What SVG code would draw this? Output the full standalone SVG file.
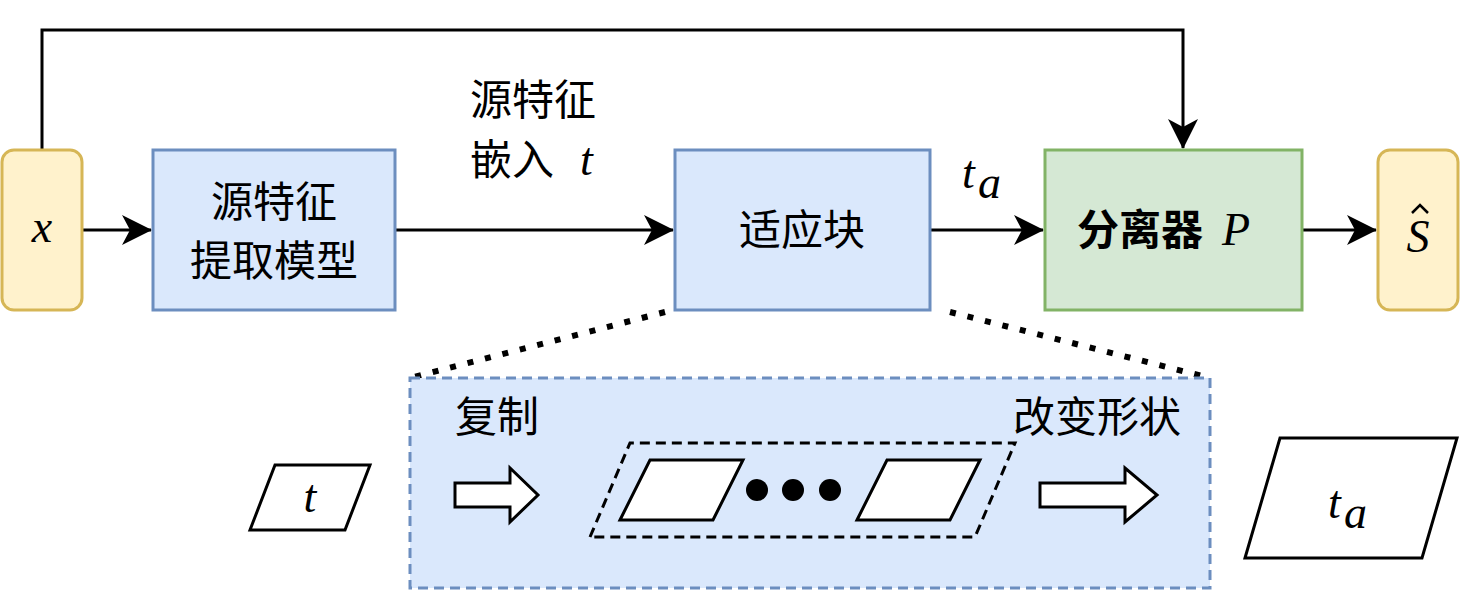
<svg xmlns="http://www.w3.org/2000/svg" width="1460" height="592" viewBox="0 0 1460 592">
<style>
.blue{fill:#dae8fc;stroke:#6c8ebf;stroke-width:3}
.yel{fill:#fff2cc;stroke:#d6b656;stroke-width:3}
.grn{fill:#d5e8d4;stroke:#82b366;stroke-width:3}
.cn{font-family:"Liberation Sans","Noto Sans CJK SC",sans-serif;font-size:42px;text-anchor:middle;fill:#000}
.m{font-family:"Liberation Serif",serif;font-style:italic;font-size:46px;fill:#000}
.ln{fill:none;stroke:#000;stroke-width:3}
.pg{fill:#fff;stroke:#000;stroke-width:3}
</style>
<defs>
<marker id="a2" viewBox="0 0 30 30" refX="29" refY="15" markerWidth="30" markerHeight="30" markerUnits="userSpaceOnUse" orient="auto"><path d="M0,0 L30,15 L0,30 L8,15 z"/></marker></defs>
<g id="connectors">
<path class="ln" d="M82,230 H151" marker-end="url(#a2)"/>
<path class="ln" d="M395,230 H673" marker-end="url(#a2)"/>
<path class="ln" d="M930,230 H1043" marker-end="url(#a2)"/>
<path class="ln" d="M1302,230 H1376" marker-end="url(#a2)"/>
<path class="ln" d="M42,150 V30 H1183 V148" marker-end="url(#a2)"/>
<path d="M665,312 L410,378" stroke="#000" stroke-width="6" stroke-dasharray="6 12" fill="none"/>
<path d="M950,312 L1210,378" stroke="#000" stroke-width="6" stroke-dasharray="6 12" fill="none"/>
</g>
<text class="cn" x="533" y="115">源特征</text>
<text class="cn" x="512" y="175">嵌入</text><text class="m" x="580" y="175">t</text>
<text class="m" x="962" y="188">t</text><text class="m" x="978" y="198" font-size="32">a</text>
<g id="x"><rect class="yel" x="2" y="150" width="80" height="160" rx="12"/><text class="m" x="42" y="242" text-anchor="middle">x</text></g>
<g id="extract"><rect class="blue" x="153" y="150" width="242" height="160"/><text class="cn" x="274" y="217">源特征</text><text class="cn" x="274" y="276">提取模型</text></g>
<g id="adapt"><rect class="blue" x="675" y="150" width="255" height="160"/><text class="cn" x="802" y="245">适应块</text></g>
<g id="sep"><rect class="grn" x="1045" y="150" width="257" height="160"/><text class="cn" x="1140" y="245" font-weight="bold">分离器</text><text class="m" x="1222" y="245">P</text></g>
<g id="s"><rect class="yel" x="1378" y="150" width="80" height="160" rx="12"/><text class="m" x="1418" y="252" text-anchor="middle">S</text><path d="M1412,213 L1420,205 L1428,213" fill="none" stroke="#000" stroke-width="2.5"/></g>
<g id="detail">
<rect x="410" y="378" width="800" height="210" fill="#dae8fc" stroke="#6c8ebf" stroke-width="3" stroke-dasharray="10 6"/>
<text class="cn" x="497" y="432">复制</text>
<text class="cn" x="1097" y="432">改变形状</text>
<path class="pg" d="M455,483 H510 V468 L538,495 L510,522 V507 H455 z"/>
<path class="pg" d="M1040,483 H1125 V468 L1157,495 L1125,522 V507 H1040 z"/>
<path d="M590,537 L630,443 H1015 L975,537 z" fill="none" stroke="#000" stroke-width="3" stroke-dasharray="10 6"/>
<path class="pg" d="M620,520 L650,460 H743 L713,520 z"/>
<path class="pg" d="M857,520 L887,460 H980 L950,520 z"/>
<circle cx="757" cy="490" r="11"/><circle cx="793" cy="490" r="11"/><circle cx="830" cy="490" r="11"/>
</g>
<g id="t"><path class="pg" d="M250,530 L275,465 H370 L345,530 z"/><text class="m" x="310" y="512" text-anchor="middle">t</text></g>
<g id="ta"><path class="pg" d="M1245,558 L1280,438 H1457 L1422,558 z"/><text class="m" x="1328" y="518">t</text><text class="m" x="1344" y="528" font-size="32">a</text></g>
</svg>
